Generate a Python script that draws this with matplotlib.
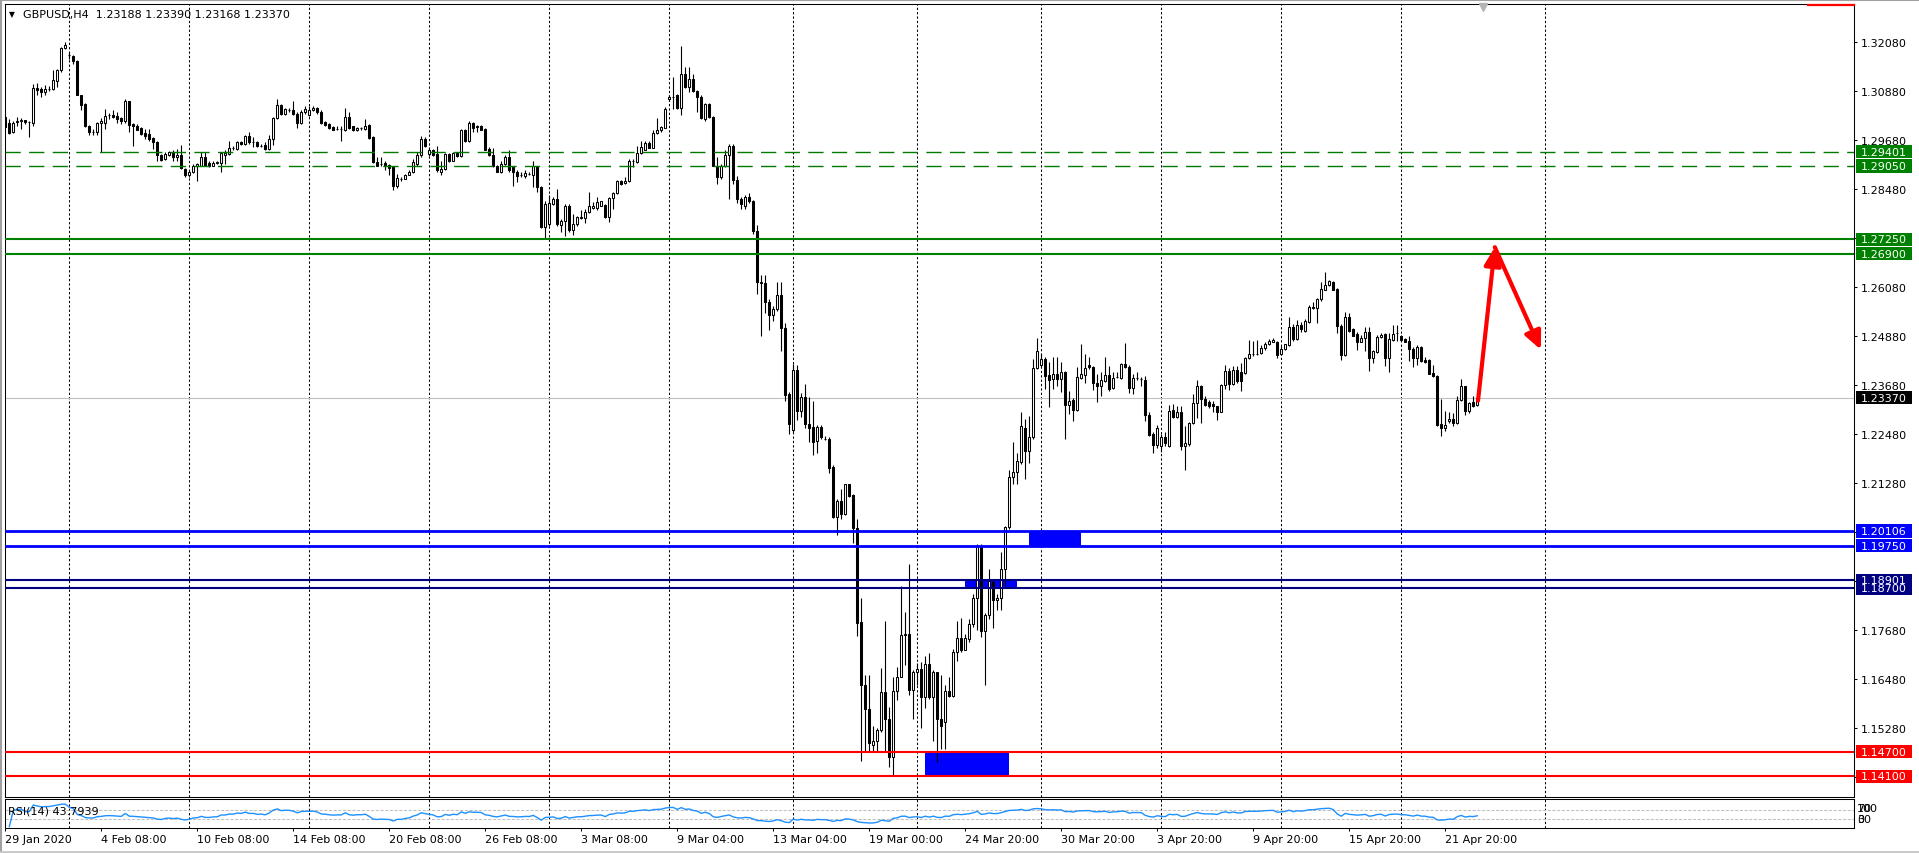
import numpy as np
import pandas as pd
import matplotlib
matplotlib.use('Agg')
import matplotlib.pyplot as plt
from matplotlib.patches import Rectangle, FancyArrowPatch
from matplotlib.lines import Line2D
from matplotlib.transforms import blended_transform_factory

# ---- GBPUSD H4 bars ----
opens = [
    1.3025, 1.3011, 1.2988, 1.3012, 1.3016, 1.3018, 1.3012, 1.3011, 1.3096, 1.3094,  # 0
    1.3087, 1.3094, 1.3094, 1.3114, 1.3141, 1.3194, 1.3176, 1.3174, 1.3163, 1.3078,
    1.3057, 1.3003, 1.2988, 1.2988, 1.3010, 1.3011, 1.3029, 1.3030, 1.3027, 1.3022,
    1.3015, 1.3063, 1.3008, 1.3004, 1.2998, 1.2986, 1.2984, 1.2973, 1.2963, 1.2932,
    1.2922, 1.2932, 1.2939, 1.2926, 1.2932, 1.2898, 1.2882, 1.2890, 1.2904, 1.2906,
    1.2928, 1.2912, 1.2906, 1.2912, 1.2913, 1.2932, 1.2935, 1.2949, 1.2947, 1.2963,  # 50
    1.2959, 1.2978, 1.2963, 1.2963, 1.2955, 1.2957, 1.2947, 1.2970, 1.3022, 1.3055,
    1.3033, 1.3043, 1.3043, 1.3033, 1.3011, 1.3038, 1.3029, 1.3041, 1.3047, 1.3038,
    1.3012, 1.3008, 1.3000, 1.2996, 1.2996, 1.2992, 1.3025, 1.3002, 1.2993, 1.2998,
    1.2996, 1.3006, 1.2975, 1.2914, 1.2910, 1.2913, 1.2908, 1.2902, 1.2855, 1.2873,
    1.2873, 1.2883, 1.2891, 1.2910, 1.2931, 1.2971, 1.2935, 1.2945, 1.2935, 1.2891,  # 100
    1.2898, 1.2935, 1.2918, 1.2937, 1.2929, 1.2992, 1.2965, 1.3010, 1.3004, 1.3004,
    1.2996, 1.2947, 1.2932, 1.2904, 1.2890, 1.2910, 1.2928, 1.2902, 1.2891, 1.2882,
    1.2880, 1.2886, 1.2884, 1.2904, 1.2853, 1.2755, 1.2763, 1.2812, 1.2824, 1.2761,
    1.2769, 1.2806, 1.2747, 1.2763, 1.2777, 1.2777, 1.2792, 1.2801, 1.2801, 1.2808,
    1.2810, 1.2779, 1.2826, 1.2838, 1.2868, 1.2863, 1.2867, 1.2916, 1.2914, 1.2937,  # 150
    1.2944, 1.2962, 1.2950, 1.2985, 1.2992, 1.2999, 1.3068, 1.3075, 1.3079, 1.3047,
    1.3131, 1.3098, 1.3118, 1.3088, 1.3074, 1.3020, 1.3057, 1.3025, 1.2906, 1.2877,
    1.2904, 1.2931, 1.2955, 1.2870, 1.2825, 1.2808, 1.2830, 1.2818, 1.2746, 1.2621,
    1.2619, 1.2572, 1.2540, 1.2554, 1.2589, 1.2507, 1.2346, 1.2259, 1.2404, 1.2305,
    1.2338, 1.2273, 1.2265, 1.2231, 1.2265, 1.2237, 1.2237, 1.2167, 1.2046, 1.2085,  # 200
    1.2053, 1.2125, 1.2099, 1.2018, 1.1787, 1.1634, 1.1575, 1.1486, 1.1495, 1.1523,
    1.1615, 1.1551, 1.1458, 1.1619, 1.1654, 1.1755, 1.1759, 1.1622, 1.1664, 1.1673,
    1.1605, 1.1684, 1.1605, 1.1664, 1.1551, 1.1542, 1.1619, 1.1606, 1.1713, 1.1748,
    1.1720, 1.1746, 1.1784, 1.1846, 1.1973, 1.1765, 1.1806, 1.1886, 1.1842, 1.1846,
    1.1917, 1.2020, 1.2143, 1.2156, 1.2179, 1.2264, 1.2207, 1.2240, 1.2409, 1.2417,  # 250
    1.2432, 1.2393, 1.2383, 1.2395, 1.2383, 1.2399, 1.2320, 1.2332, 1.2308, 1.2385,
    1.2393, 1.2417, 1.2412, 1.2373, 1.2367, 1.2379, 1.2393, 1.2360, 1.2387, 1.2386,
    1.2420, 1.2412, 1.2360, 1.2385, 1.2383, 1.2381, 1.2296, 1.2248, 1.2222, 1.2218,
    1.2240, 1.2218, 1.2308, 1.2289, 1.2301, 1.2220, 1.2225, 1.2275, 1.2324, 1.2367,
    1.2334, 1.2327, 1.2322, 1.2316, 1.2303, 1.2368, 1.2402, 1.2372, 1.2406, 1.2401,  # 300
    1.2398, 1.2434, 1.2444, 1.2444, 1.2446, 1.2458, 1.2469, 1.2474, 1.2474, 1.2444,
    1.2457, 1.2466, 1.2510, 1.2481, 1.2515, 1.2501, 1.2523, 1.2556, 1.2556, 1.2579,
    1.2602, 1.2613, 1.2620, 1.2604, 1.2512, 1.2443, 1.2534, 1.2506, 1.2493, 1.2474,
    1.2483, 1.2497, 1.2434, 1.2450, 1.2485, 1.2493, 1.2434, 1.2479, 1.2496, 1.2488,
    1.2481, 1.2477, 1.2457, 1.2434, 1.2461, 1.2430, 1.2430, 1.2398, 1.2390, 1.2273,  # 350
    1.2263, 1.2279, 1.2285, 1.2275, 1.2332, 1.2365, 1.2305, 1.2326, 1.2319,
]
highs = [
    1.3028, 1.3020, 1.3014, 1.3025, 1.3022, 1.3018, 1.3014, 1.3106, 1.3109, 1.3098,
    1.3104, 1.3100, 1.3141, 1.3143, 1.3196, 1.3208, 1.3184, 1.3177, 1.3165, 1.3079,
    1.3060, 1.3006, 1.2996, 1.3012, 1.3022, 1.3045, 1.3035, 1.3042, 1.3038, 1.3025,
    1.3069, 1.3065, 1.3011, 1.3008, 1.3000, 1.2996, 1.2996, 1.2975, 1.2965, 1.2935,
    1.2940, 1.2942, 1.2945, 1.2947, 1.2957, 1.2900, 1.2894, 1.2910, 1.2913, 1.2940,
    1.2940, 1.2918, 1.2917, 1.2917, 1.2939, 1.2945, 1.2965, 1.2955, 1.2965, 1.2967,
    1.2981, 1.2988, 1.2975, 1.2965, 1.2959, 1.2963, 1.2981, 1.3025, 1.3068, 1.3057,
    1.3047, 1.3047, 1.3063, 1.3037, 1.3041, 1.3051, 1.3051, 1.3051, 1.3049, 1.3041,
    1.3014, 1.3010, 1.3002, 1.3004, 1.3002, 1.3047, 1.3037, 1.3004, 1.3000, 1.3001,
    1.3020, 1.3008, 1.2978, 1.2926, 1.2926, 1.2916, 1.2910, 1.2904, 1.2886, 1.2877,
    1.2886, 1.2896, 1.2922, 1.2939, 1.2978, 1.2975, 1.2951, 1.2947, 1.2953, 1.2918,
    1.2937, 1.2937, 1.2939, 1.2940, 1.2996, 1.2996, 1.3014, 1.3012, 1.3006, 1.3006,
    1.2998, 1.2951, 1.2949, 1.2908, 1.2916, 1.2932, 1.2943, 1.2904, 1.2894, 1.2890,
    1.2894, 1.2890, 1.2916, 1.2906, 1.2855, 1.2820, 1.2833, 1.2828, 1.2849, 1.2775,
    1.2812, 1.2812, 1.2788, 1.2783, 1.2796, 1.2800, 1.2841, 1.2816, 1.2828, 1.2820,
    1.2812, 1.2828, 1.2842, 1.2871, 1.2871, 1.2877, 1.2922, 1.2921, 1.2955, 1.2967,
    1.2965, 1.2965, 1.2992, 1.3022, 1.3004, 1.3049, 1.3079, 1.3123, 1.3082, 1.3200,
    1.3147, 1.3147, 1.3131, 1.3090, 1.3078, 1.3060, 1.3060, 1.3027, 1.2928, 1.2910,
    1.2945, 1.2960, 1.2958, 1.2880, 1.2830, 1.2835, 1.2838, 1.2822, 1.2761, 1.2638,
    1.2638, 1.2580, 1.2563, 1.2621, 1.2621, 1.2521, 1.2352, 1.2421, 1.2418, 1.2349,
    1.2371, 1.2338, 1.2329, 1.2271, 1.2271, 1.2244, 1.2240, 1.2172, 1.2090, 1.2113,
    1.2127, 1.2127, 1.2102, 1.2039, 1.1846, 1.1659, 1.1659, 1.1533, 1.1528, 1.1675,
    1.1790, 1.1580, 1.1654, 1.1678, 1.1875, 1.1812, 1.1931, 1.1671, 1.1687, 1.1690,
    1.1705, 1.1711, 1.1671, 1.1666, 1.1659, 1.1634, 1.1654, 1.1722, 1.1790, 1.1797,
    1.1758, 1.1795, 1.1856, 1.1978, 1.1978, 1.1809, 1.1917, 1.1893, 1.1856, 1.1959,
    1.2024, 1.2160, 1.2228, 1.2202, 1.2301, 1.2285, 1.2292, 1.2432, 1.2484, 1.2444,
    1.2436, 1.2424, 1.2436, 1.2438, 1.2424, 1.2403, 1.2354, 1.2336, 1.2412, 1.2469,
    1.2444, 1.2436, 1.2414, 1.2395, 1.2399, 1.2436, 1.2416, 1.2399, 1.2399, 1.2422,
    1.2471, 1.2417, 1.2395, 1.2399, 1.2387, 1.2391, 1.2301, 1.2252, 1.2270, 1.2248,
    1.2252, 1.2319, 1.2322, 1.2318, 1.2318, 1.2269, 1.2278, 1.2346, 1.2381, 1.2368,
    1.2342, 1.2332, 1.2330, 1.2318, 1.2371, 1.2417, 1.2409, 1.2416, 1.2414, 1.2422,
    1.2436, 1.2479, 1.2477, 1.2479, 1.2466, 1.2473, 1.2481, 1.2483, 1.2477, 1.2463,
    1.2470, 1.2534, 1.2518, 1.2528, 1.2522, 1.2530, 1.2564, 1.2571, 1.2581, 1.2620,
    1.2644, 1.2626, 1.2622, 1.2605, 1.2518, 1.2546, 1.2545, 1.2507, 1.2497, 1.2491,
    1.2510, 1.2510, 1.2455, 1.2491, 1.2496, 1.2496, 1.2496, 1.2515, 1.2515, 1.2491,
    1.2484, 1.2489, 1.2461, 1.2466, 1.2465, 1.2436, 1.2432, 1.2417, 1.2393, 1.2334,
    1.2305, 1.2301, 1.2300, 1.2342, 1.2383, 1.2367, 1.2327, 1.2341, 1.2339,
]
lows = [
    1.2998, 1.2984, 1.2986, 1.3004, 1.2996, 1.3007, 1.2975, 1.3004, 1.3078, 1.3074,
    1.3079, 1.3088, 1.3092, 1.3098, 1.3135, 1.3192, 1.3167, 1.3155, 1.3078, 1.3043,
    1.3000, 1.2980, 1.2980, 1.2980, 1.2939, 1.2996, 1.3020, 1.3022, 1.3011, 1.3008,
    1.3010, 1.2988, 1.2953, 1.2992, 1.2981, 1.2971, 1.2967, 1.2947, 1.2918, 1.2918,
    1.2920, 1.2930, 1.2918, 1.2918, 1.2898, 1.2877, 1.2877, 1.2888, 1.2869, 1.2904,
    1.2904, 1.2902, 1.2904, 1.2909, 1.2891, 1.2910, 1.2931, 1.2945, 1.2945, 1.2957,
    1.2957, 1.2959, 1.2951, 1.2951, 1.2951, 1.2943, 1.2944, 1.2957, 1.3020, 1.3030,
    1.3030, 1.3037, 1.3029, 1.2998, 1.3007, 1.3033, 1.3027, 1.3039, 1.3033, 1.3008,
    1.3002, 1.2996, 1.2992, 1.2992, 1.2967, 1.2990, 1.2996, 1.2990, 1.2990, 1.2994,
    1.2994, 1.2971, 1.2913, 1.2904, 1.2906, 1.2896, 1.2882, 1.2845, 1.2850, 1.2869,
    1.2872, 1.2882, 1.2888, 1.2904, 1.2926, 1.2951, 1.2929, 1.2929, 1.2891, 1.2883,
    1.2896, 1.2914, 1.2916, 1.2926, 1.2926, 1.2963, 1.2963, 1.2989, 1.2988, 1.2993,
    1.2943, 1.2929, 1.2902, 1.2890, 1.2888, 1.2908, 1.2891, 1.2857, 1.2865, 1.2877,
    1.2876, 1.2882, 1.2853, 1.2842, 1.2752, 1.2725, 1.2759, 1.2810, 1.2759, 1.2743,
    1.2734, 1.2744, 1.2736, 1.2759, 1.2775, 1.2766, 1.2790, 1.2800, 1.2798, 1.2806,
    1.2777, 1.2767, 1.2800, 1.2837, 1.2859, 1.2861, 1.2865, 1.2902, 1.2913, 1.2935,
    1.2943, 1.2948, 1.2948, 1.2983, 1.2989, 1.2998, 1.3065, 1.3045, 1.3045, 1.3030,
    1.3096, 1.3087, 1.3086, 1.3038, 1.3019, 1.3014, 1.3022, 1.2904, 1.2861, 1.2874,
    1.2902, 1.2824, 1.2860, 1.2815, 1.2799, 1.2799, 1.2815, 1.2739, 1.2591, 1.2488,
    1.2544, 1.2502, 1.2524, 1.2549, 1.2451, 1.2329, 1.2249, 1.2252, 1.2282, 1.2291,
    1.2263, 1.2229, 1.2198, 1.2202, 1.2237, 1.2233, 1.2153, 1.2043, 1.2001, 1.2040,
    1.2050, 1.2095, 1.1982, 1.1753, 1.1447, 1.1472, 1.1472, 1.1472, 1.1472, 1.1519,
    1.1472, 1.1432, 1.1411, 1.1596, 1.1653, 1.1682, 1.1610, 1.1550, 1.1634, 1.1528,
    1.1576, 1.1598, 1.1495, 1.1444, 1.1477, 1.1477, 1.1604, 1.1604, 1.1692, 1.1715,
    1.1718, 1.1739, 1.1776, 1.1767, 1.1750, 1.1634, 1.1795, 1.1772, 1.1816, 1.1816,
    1.1875, 1.2015, 1.2127, 1.2127, 1.2175, 1.2138, 1.2177, 1.2236, 1.2408, 1.2412,
    1.2358, 1.2314, 1.2358, 1.2367, 1.2352, 1.2236, 1.2297, 1.2281, 1.2305, 1.2383,
    1.2373, 1.2408, 1.2357, 1.2326, 1.2342, 1.2376, 1.2354, 1.2358, 1.2385, 1.2383,
    1.2409, 1.2348, 1.2346, 1.2381, 1.2367, 1.2279, 1.2244, 1.2201, 1.2213, 1.2205,
    1.2218, 1.2216, 1.2287, 1.2287, 1.2210, 1.2161, 1.2218, 1.2273, 1.2287, 1.2275,
    1.2316, 1.2311, 1.2303, 1.2283, 1.2301, 1.2358, 1.2357, 1.2368, 1.2373, 1.2354,
    1.2395, 1.2432, 1.2440, 1.2442, 1.2444, 1.2455, 1.2466, 1.2473, 1.2434, 1.2442,
    1.2455, 1.2463, 1.2477, 1.2479, 1.2499, 1.2497, 1.2520, 1.2555, 1.2520, 1.2575,
    1.2600, 1.2612, 1.2600, 1.2496, 1.2430, 1.2440, 1.2499, 1.2488, 1.2455, 1.2473,
    1.2452, 1.2403, 1.2422, 1.2447, 1.2484, 1.2416, 1.2401, 1.2477, 1.2477, 1.2475,
    1.2473, 1.2428, 1.2412, 1.2417, 1.2424, 1.2422, 1.2395, 1.2387, 1.2269, 1.2243,
    1.2256, 1.2275, 1.2269, 1.2273, 1.2330, 1.2295, 1.2300, 1.2314, 1.2317,
]
closes = [
    1.3000, 1.2986, 1.3011, 1.3016, 1.3018, 1.3012, 1.3012, 1.3096, 1.3091, 1.3086,
    1.3094, 1.3094, 1.3116, 1.3141, 1.3194, 1.3202, 1.3176, 1.3163, 1.3078, 1.3055,
    1.3002, 1.2988, 1.2988, 1.3010, 1.3016, 1.3027, 1.3029, 1.3026, 1.3019, 1.3014,
    1.3063, 1.3006, 1.3002, 1.2994, 1.2984, 1.2978, 1.2971, 1.2963, 1.2931, 1.2920,
    1.2935, 1.2939, 1.2926, 1.2932, 1.2900, 1.2882, 1.2891, 1.2906, 1.2910, 1.2928,
    1.2906, 1.2906, 1.2912, 1.2914, 1.2937, 1.2937, 1.2949, 1.2949, 1.2963, 1.2959,
    1.2978, 1.2963, 1.2963, 1.2953, 1.2955, 1.2947, 1.2970, 1.3022, 1.3055, 1.3033,
    1.3045, 1.3043, 1.3033, 1.3011, 1.3038, 1.3045, 1.3043, 1.3047, 1.3037, 1.3011,
    1.3006, 1.2998, 1.2993, 1.2996, 1.2996, 1.3025, 1.2998, 1.2992, 1.2998, 1.2998,
    1.3004, 1.2973, 1.2914, 1.2906, 1.2910, 1.2906, 1.2900, 1.2855, 1.2875, 1.2873,
    1.2884, 1.2891, 1.2914, 1.2931, 1.2971, 1.2955, 1.2945, 1.2932, 1.2894, 1.2898,
    1.2935, 1.2918, 1.2937, 1.2929, 1.2993, 1.2965, 1.3010, 1.2999, 1.3000, 1.2994,
    1.2945, 1.2932, 1.2904, 1.2891, 1.2910, 1.2928, 1.2894, 1.2891, 1.2880, 1.2882,
    1.2888, 1.2886, 1.2904, 1.2853, 1.2755, 1.2812, 1.2815, 1.2824, 1.2763, 1.2769,
    1.2806, 1.2747, 1.2763, 1.2779, 1.2779, 1.2793, 1.2806, 1.2808, 1.2816, 1.2818,
    1.2779, 1.2826, 1.2838, 1.2868, 1.2861, 1.2869, 1.2917, 1.2916, 1.2937, 1.2951,
    1.2962, 1.2950, 1.2985, 1.2993, 1.3000, 1.3045, 1.3074, 1.3075, 1.3047, 1.3131,
    1.3098, 1.3118, 1.3088, 1.3074, 1.3022, 1.3057, 1.3025, 1.2906, 1.2877, 1.2906,
    1.2931, 1.2955, 1.2870, 1.2825, 1.2811, 1.2830, 1.2818, 1.2746, 1.2621, 1.2619,
    1.2572, 1.2540, 1.2554, 1.2589, 1.2507, 1.2343, 1.2273, 1.2406, 1.2305, 1.2340,
    1.2273, 1.2263, 1.2229, 1.2265, 1.2240, 1.2237, 1.2165, 1.2046, 1.2085, 1.2053,
    1.2125, 1.2097, 1.2018, 1.1786, 1.1634, 1.1575, 1.1491, 1.1495, 1.1523, 1.1615,
    1.1551, 1.1458, 1.1619, 1.1654, 1.1755, 1.1759, 1.1622, 1.1664, 1.1673, 1.1605,
    1.1684, 1.1605, 1.1664, 1.1551, 1.1533, 1.1619, 1.1606, 1.1713, 1.1748, 1.1720,
    1.1748, 1.1784, 1.1846, 1.1973, 1.1765, 1.1804, 1.1889, 1.1842, 1.1846, 1.1917,
    1.2020, 1.2143, 1.2156, 1.2181, 1.2267, 1.2207, 1.2240, 1.2409, 1.2451, 1.2432,
    1.2391, 1.2381, 1.2395, 1.2383, 1.2399, 1.2320, 1.2330, 1.2308, 1.2387, 1.2395,
    1.2409, 1.2412, 1.2373, 1.2367, 1.2381, 1.2393, 1.2358, 1.2386, 1.2387, 1.2420,
    1.2412, 1.2360, 1.2386, 1.2385, 1.2383, 1.2296, 1.2247, 1.2222, 1.2264, 1.2240,
    1.2226, 1.2305, 1.2289, 1.2301, 1.2220, 1.2226, 1.2275, 1.2324, 1.2367, 1.2334,
    1.2320, 1.2318, 1.2316, 1.2301, 1.2368, 1.2402, 1.2372, 1.2406, 1.2379, 1.2379,
    1.2434, 1.2444, 1.2444, 1.2445, 1.2458, 1.2468, 1.2475, 1.2479, 1.2443, 1.2457,
    1.2468, 1.2510, 1.2481, 1.2515, 1.2506, 1.2526, 1.2559, 1.2559, 1.2579, 1.2604,
    1.2613, 1.2622, 1.2602, 1.2512, 1.2443, 1.2534, 1.2501, 1.2489, 1.2474, 1.2483,
    1.2497, 1.2434, 1.2451, 1.2485, 1.2492, 1.2434, 1.2481, 1.2493, 1.2496, 1.2479,
    1.2474, 1.2457, 1.2434, 1.2461, 1.2428, 1.2425, 1.2395, 1.2390, 1.2271, 1.2264,
    1.2270, 1.2285, 1.2275, 1.2332, 1.2365, 1.2305, 1.2324, 1.2316, 1.2337,
]

title = 'GBPUSD,H4  1.23188 1.23390 1.23168 1.23370'
rsi_title = 'RSI(14) 43.7939'

date_bars = [0, 24, 48, 72, 96, 120, 144, 168, 192, 216, 240, 264, 288, 312, 336, 360]
date_labels = ['29 Jan 2020', '4 Feb 08:00', '10 Feb 08:00', '14 Feb 08:00', '20 Feb 08:00',
               '26 Feb 08:00', '3 Mar 08:00', '9 Mar 04:00', '13 Mar 04:00', '19 Mar 00:00',
               '24 Mar 20:00', '30 Mar 20:00', '3 Apr 20:00', '9 Apr 20:00', '15 Apr 20:00',
               '21 Apr 20:00']
grid_bars = [16, 46, 76, 106, 136, 166, 197, 228, 259, 289, 319, 349, 385]
price_ticks = [1.1408, 1.1528, 1.1648, 1.1768, 1.1888, 1.2008, 1.2128, 1.2248,
               1.2368, 1.2488, 1.2608, 1.2728, 1.2848, 1.2968, 1.3088, 1.3208]

green_dashed = [1.29401, 1.29050]
green_levels = [1.27250, 1.26900]
blue_levels = [1.20106, 1.19750]
navy_levels = [1.18901, 1.18700]
red_levels = [1.14700, 1.14100]
bid = 1.23370

# zones: (bar from, bar to, low, high)
zones = [(229.9, 250.9, 1.14100, 1.14700),
         (239.9, 252.9, 1.18700, 1.18901),
         (255.9, 268.9, 1.19750, 1.20106)]

arrow_bars = [368.2, 372.4, 383.9]
arrow_prices = [1.2330, 1.2706, 1.2455]

# ---- figure ----
W, H = 1919, 854
def fx(px):
    return px / W
def fy(py):
    return 1 - py / H

plt.rcParams['font.family'] = ['DejaVu Sans']
fig = plt.figure(figsize=(W / 100, H / 100), dpi=100)
fig.patch.set_facecolor('white')

left, right = 4.7, 1854
ax = fig.add_axes([fx(left), fy(797.7), fx(right) - fx(left), fy(5) - fy(797.7)])
rax = fig.add_axes([fx(left), fy(829.3), fx(right) - fx(left), fy(800.3) - fy(829.3)])

xlim = (-0.15, 462.2)
for a in (ax, rax):
    a.set_xlim(*xlim)
    for s in a.spines.values():
        s.set_linewidth(0.75)
        s.set_color('black')
    for g in grid_bars:
        a.axvline(g, color='black', lw=0.75, ls=(0, (2.2, 2.0)), zorder=1)

ax.set_ylim(1.13597, 1.33018)

# zones behind candles
for x0, x1, lo, hi in zones:
    ax.add_patch(Rectangle((x0, lo), x1 - x0, hi - lo, facecolor='#0000ff',
                           edgecolor='none', zorder=1.5))

# candles
o = np.array(opens)
h = np.array(highs)
l = np.array(lows)
c = np.array(closes)
x = np.arange(len(c))
bull = c >= o
ax.vlines(x, l, h, color='black', lw=0.8, zorder=3)
ax.bar(x, np.abs(c - o), bottom=np.minimum(o, c), width=0.55,
       color=np.where(bull, 'white', 'black'), edgecolor='black', lw=0.75, zorder=4)

# level lines
ax.axhline(bid, color='#c0c0c0', lw=0.8, zorder=2)
for lv in green_dashed:
    ax.axhline(lv, color='#007a00', lw=1.0, dashes=(11, 6), zorder=5)
for lv in green_levels:
    ax.axhline(lv, color='#008000', lw=1.5, zorder=5)
for lv in blue_levels:
    ax.axhline(lv, color='#0000ff', lw=2.0, zorder=5)
for lv in navy_levels:
    ax.axhline(lv, color='#000080', lw=1.5, zorder=5)
for lv in red_levels:
    ax.axhline(lv, color='#ff0000', lw=1.5, zorder=5)

# red forecast arrows
for k in range(2):
    ax.add_patch(FancyArrowPatch((arrow_bars[k], arrow_prices[k]),
                                 (arrow_bars[k + 1], arrow_prices[k + 1]),
                                 arrowstyle='-|>,head_length=0.6,head_width=0.28',
                                 mutation_scale=18, color='#ff0000', lw=3,
                                 shrinkA=0, shrinkB=0, zorder=6))

# price axis
ax.yaxis.tick_right()
ax.set_yticks(price_ticks)
ax.set_yticklabels(['%.5f' % p for p in price_ticks])
ax.tick_params(axis='y', direction='out', length=2.4, width=0.75, pad=2.5,
               labelsize=8, colors='black')
ax.tick_params(axis='x', bottom=False, labelbottom=False)

# price tags on the right scale
tag_tr = blended_transform_factory(fig.transFigure, ax.transData)
tag_h = 13.3 * (1.33018 - 1.13597) / 792.7
def price_tag(level, color):
    ax.add_patch(Rectangle((fx(1856), level - tag_h / 2), fx(56), tag_h,
                           transform=tag_tr, facecolor=color, edgecolor='none',
                           clip_on=False, zorder=7))
    ax.text(fx(1860.5), level, '%.5f' % level, transform=tag_tr, color='white',
            fontsize=8, va='center', ha='left', clip_on=False, zorder=8)

for lv in green_dashed + green_levels:
    price_tag(lv, '#008000')
for lv in blue_levels:
    price_tag(lv, '#0000ff')
price_tag(navy_levels[1], '#000080')
price_tag(navy_levels[0], '#000080')
for lv in red_levels:
    price_tag(lv, '#ff0000')
price_tag(bid, 'black')

# RSI(14) panel
delta = np.diff(c, prepend=c[0])
gain = pd.Series(np.clip(delta, 0, None))
loss = pd.Series(np.clip(-delta, 0, None))
avg_gain = gain.ewm(alpha=1 / 14, adjust=False).mean()
avg_loss = loss.ewm(alpha=1 / 14, adjust=False).mean()
rsi = (100 - 100 / (1 + avg_gain / avg_loss)).to_numpy()
rax.set_ylim(-6.7, 111.7)
for lv in (70, 30):
    rax.axhline(lv, color='#c0c0c0', lw=0.75, ls=(0, (3, 1.5)), zorder=1)
rax.plot(x[1:], rsi[1:], color='#1e90ff', lw=1.0, zorder=3)
rax.set_yticks([])
rax.set_xticks(date_bars)
rax.set_xticklabels(date_labels, ha='left')
rax.tick_params(axis='x', direction='out', length=2.4, width=0.75, pad=2.0,
                labelsize=8, colors='black')

fig.text(fx(8), fy(811.5), rsi_title, fontsize=8, va='center', ha='left')
# the scale labels of the small RSI window sit on top of each other, as in the terminal
for txt, py in (('100', 809.5), ('70', 809.5), ('30', 820.3), ('0', 820.3)):
    fig.text(fx(1857), fy(py), txt, fontsize=8, va='center', ha='left')

# header and window decorations
fig.text(fx(9), fy(14.5), '\u25bc', fontsize=5.5, va='center', ha='left')
fig.text(fx(23), fy(15), title, fontsize=8, va='center', ha='left')
fig.add_artist(Line2D([0, 1], [fy(1), fy(1)], color='#a0a0a0', lw=1.5, transform=fig.transFigure))
fig.add_artist(Line2D([fx(1), fx(1)], [0, 1], color='#a0a0a0', lw=1.5, transform=fig.transFigure))
fig.add_artist(Line2D([0, 1], [fy(852.5), fy(852.5)], color='#c8c8c8', lw=2, transform=fig.transFigure))
fig.add_artist(Line2D([fx(1808), fx(1854)], [fy(6), fy(6)], color='#ff0000', lw=1.6, transform=fig.transFigure))
fig.add_artist(Line2D([fx(1483)], [fy(7.5)], marker='v', markersize=6, color='#b4b4b4',
                      transform=fig.transFigure))

fig.savefig('out.png', dpi=100, facecolor='white')
